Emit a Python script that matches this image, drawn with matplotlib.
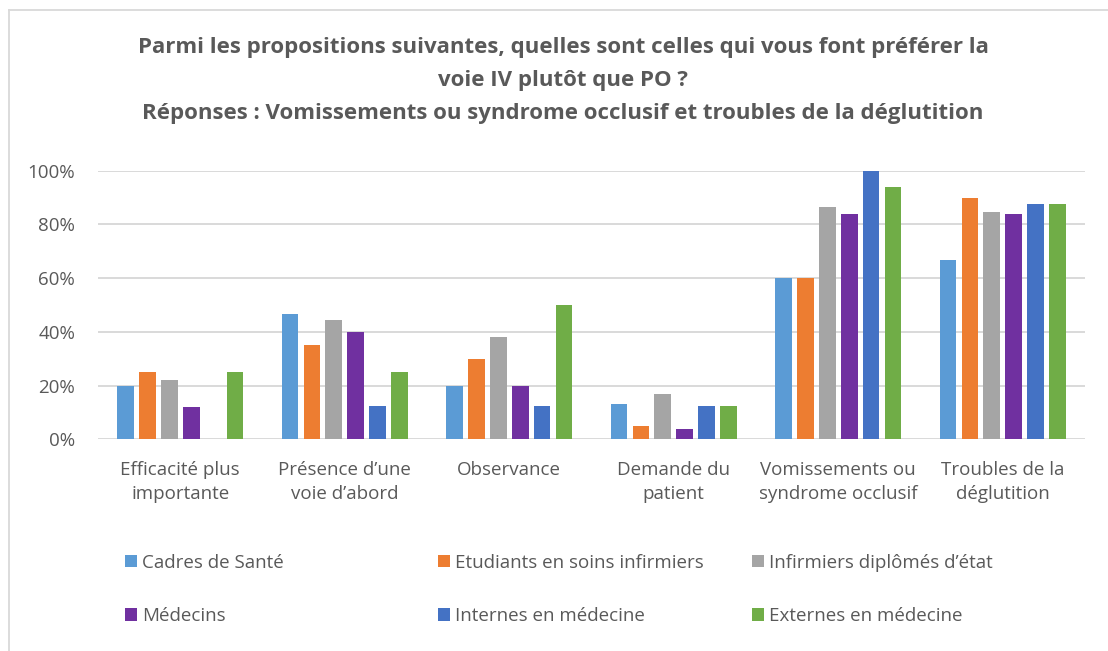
import matplotlib
matplotlib.use("Agg")
import matplotlib.pyplot as plt
import numpy as np
from matplotlib.patches import Patch
from matplotlib.lines import Line2D
from matplotlib.ticker import FuncFormatter

categories = ["Efficacité plus\nimportante", "Présence d\u2019une\nvoie d\u2019abord", "Observance",
              "Demande du\npatient", "Vomissements ou\nsyndrome occlusif", "Troubles de la\ndéglutition"]
series_names = ["Cadres de Santé", "Etudiants en soins infirmiers", "Infirmiers diplômés d\u2019état",
                "Médecins", "Internes en médecine", "Externes en médecine"]
cadres = [0.20, 0.467, 0.20, 0.133, 0.60, 0.667]
etudiants = [0.25, 0.35, 0.30, 0.05, 0.60, 0.90]
infirmiers = [0.222, 0.444, 0.38, 0.167, 0.865, 0.847]
medecins = [0.12, 0.40, 0.20, 0.04, 0.84, 0.84]
internes = [0.0, 0.125, 0.125, 0.125, 1.00, 0.875]
externes = [0.25, 0.25, 0.50, 0.125, 0.9375, 0.875]
yticks = [0, 0.2, 0.4, 0.6, 0.8, 1.0]

series = [cadres, etudiants, infirmiers, medecins, internes, externes]
colors = ["#5B9BD5", "#ED7D31", "#A5A5A5", "#7030A0", "#4472C4", "#70AD47"]

FONT = "Open Sans"
TXT = "#595959"
W, H = 1108, 651
fig = plt.figure(figsize=(W / 100, H / 100), dpi=100)
fig.patch.set_facecolor("white")

left, right, top, bottom = 98, 1085, 170.7, 439.3
ax = fig.add_axes([left / W, 1 - bottom / H, (right - left) / W, (bottom - top) / H])

x = np.arange(len(categories))
step = 0.133
width = 0.102
for i, (vals, c, name) in enumerate(zip(series, colors, series_names)):
    ax.bar(x + (i - 2.5) * step, vals, width=width, color=c, label=name, zorder=3)

ax.set_xlim(-0.5, len(categories) - 0.5)
ax.set_ylim(0, 1.0)
ax.set_yticks(yticks)
ax.yaxis.set_major_formatter(FuncFormatter(lambda v, p: f"{int(round(v * 100))}%"))
ax.grid(axis="y", color="#D9D9D9", linewidth=1.4, zorder=0)
ax.set_axisbelow(True)
for s in ax.spines.values():
    s.set_visible(False)
ax.tick_params(axis="both", length=0, colors=TXT, labelsize=13.5)
ax.tick_params(axis="y", pad=16.5)
ax.tick_params(axis="x", pad=15.5)
ax.set_xticks(x)
ax.set_xticklabels(categories, fontfamily=FONT, linespacing=1.45)
for lab in ax.get_yticklabels():
    lab.set_fontfamily(FONT)

# Title
title_lines = ["Parmi les propositions suivantes, quelles sont celles qui vous font préférer la",
               "voie IV plutôt que PO ?",
               "Réponses : Vomissements ou syndrome occlusif et troubles de la déglutition"]
for t, yy in zip(title_lines, [47, 80.5, 114]):
    fig.text(563 / W, 1 - yy / H, t, ha="center", va="center", fontsize=16,
             fontweight="bold", color=TXT, fontfamily=FONT)

# Legend: three columns
cols = [(125, [0, 3]), (438, [1, 4]), (752, [2, 5])]
for xpos, idxs in cols:
    handles = [Patch(facecolor=colors[k], edgecolor="none") for k in idxs]
    labels = [series_names[k] for k in idxs]
    leg = fig.legend(handles, labels, loc="center left",
                     bbox_to_anchor=(xpos / W, 1 - 589.5 / H), frameon=False,
                     prop={"family": FONT, "size": 13.5}, handlelength=0.66,
                     handleheight=0.66, handletextpad=0.25, labelspacing=1.9,
                     borderpad=0, borderaxespad=0)
    for t in leg.get_texts():
        t.set_color(TXT)

# Chart border (left and top)
fig.add_artist(Line2D([9 / W, 9 / W], [0, 1 - 10 / H], transform=fig.transFigure,
                      color="#D9D9D9", linewidth=1.3))
fig.add_artist(Line2D([9 / W, 1], [1 - 10 / H, 1 - 10 / H], transform=fig.transFigure,
                      color="#D9D9D9", linewidth=1.3))

fig.savefig("out.png", dpi=100, facecolor="white")
